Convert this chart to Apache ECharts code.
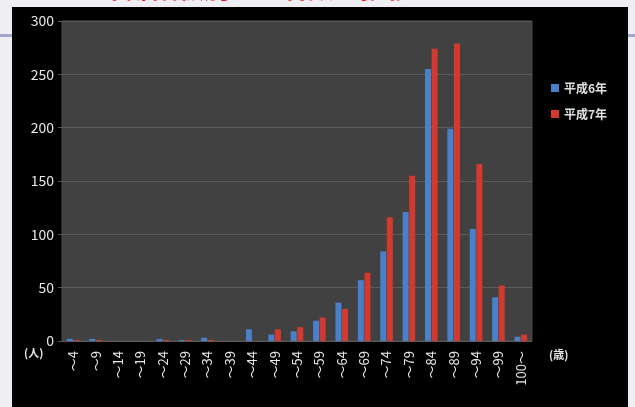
<!DOCTYPE html>
<html>
<head>
<meta charset="utf-8">
<script src="https://cdn.jsdelivr.net/npm/echarts@6/dist/echarts.min.js"></script>
<style>
  html, body { margin: 0; padding: 0; background: #eeeef3; }
  #chart { width: 635px; height: 407px; }
</style>
</head>
<body>
<div id="chart"></div>
<script>
// 年齢階級
var ageGroups = ['～4', '～9', '～14', '～19', '～24', '～29', '～34', '～39', '～44', '～49',
  '～54', '～59', '～64', '～69', '～74', '～79', '～84', '～89', '～94', '～99', '100～'];
var h6 = [2, 2, 0, 0, 2, 1, 3, 0, 11, 6, 9, 19, 36, 57, 84, 121, 255, 199, 105, 41, 4];
var h7 = [1, 1, 0, 0, 1, 1, 1, 0, 0, 11, 13, 22, 30, 64, 116, 155, 274, 279, 166, 52, 6];
var yTicks = [0, 300, 50];

var chart = echarts.init(document.getElementById('chart'));
chart.setOption({
  backgroundColor: '#eeeef3',
  textStyle: { fontFamily: 'Noto Sans CJK JP' },
  graphic: [
    // スライドの飾り線
    { type: 'rect', shape: { x: 0, y: 34, width: 635, height: 3 }, style: { fill: '#a4a6cc' }, z: -20 },
    { type: 'text', left: 100, top: -25, style: { text: '年齢階級別死亡者数の推移', fill: '#e8101a', font: 'bold 26px "Noto Sans CJK JP"' }, z: -20 },
    { type: 'rect', shape: { x: 12, y: 7, width: 616, height: 400 }, style: { fill: '#000000' }, z: -10 },
    { type: 'text', left: 24, top: 347, style: { text: '(人)', fill: '#e8e8e8', font: 'bold 11px "Noto Sans CJK JP"' }, z: 5 },
    { type: 'text', left: 549, top: 349, style: { text: '(歳)', fill: '#e8e8e8', font: 'bold 11px "Noto Sans CJK JP"' }, z: 5 }
  ],
  legend: {
    orient: 'vertical',
    left: 546,
    top: 77,
    itemWidth: 8,
    itemHeight: 8,
    itemGap: 14,
    icon: 'rect',
    textStyle: { color: '#e0e0e0', fontSize: 12, fontWeight: 'bold' },
    data: ['平成6年', '平成7年']
  },
  grid: {
    left: 62,
    right: 103,
    top: 21,
    bottom: 66,
    show: true,
    backgroundColor: '#414141',
    borderColor: '#4a4a4a',
    z: -5
  },
  xAxis: {
    type: 'category',
    data: ageGroups,
    z: 3,
    axisLine: { show: false },
    axisTick: { show: false },
    axisLabel: { rotate: 90, color: '#e8e8e8', fontSize: 13, margin: 10, interval: 0 }
  },
  yAxis: {
    type: 'value',
    min: yTicks[0],
    max: yTicks[1],
    interval: yTicks[2],
    z: 3,
    axisLine: { show: false },
    axisTick: { show: true, length: 4, lineStyle: { color: '#555555' } },
    axisLabel: { color: '#e8e8e8', fontSize: 14, margin: 8 },
    splitLine: { lineStyle: { color: '#5c5c5c', width: 1 } }
  },
  series: [
    {
      name: '平成6年',
      type: 'bar',
      data: h6,
      barWidth: 6,
      barGap: '10%',
      z: 4,
      itemStyle: { color: '#4a7fca' }
    },
    {
      name: '平成7年',
      type: 'bar',
      data: h7,
      barWidth: 6,
      z: 4,
      itemStyle: { color: '#d23a30' }
    }
  ]
});
</script>
</body>
</html>
